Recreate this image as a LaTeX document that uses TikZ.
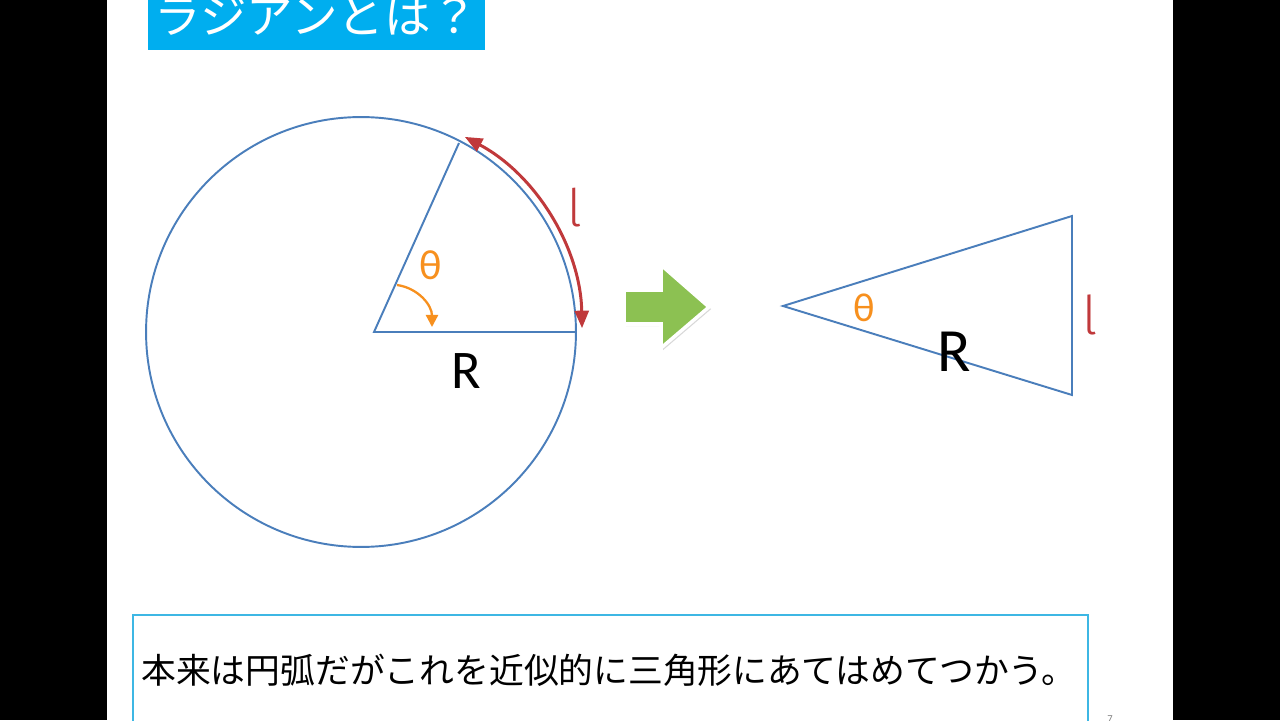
\documentclass[tikz,border=0pt]{standalone}
\usepackage{fontspec}
\setmainfont{Carlito}
\newfontfamily\jpfont{Noto Sans CJK JP}
\newfontfamily\ellfont[Scale=0.95]{Fira Sans Light}
\usepackage{tikz}
\usetikzlibrary{arrows.meta,shadows}

\definecolor{lineblue}{HTML}{4A7EBB}
\definecolor{arcred}{HTML}{C0393B}
\definecolor{angorange}{HTML}{F7901E}
\definecolor{titlecyan}{HTML}{00AEEF}
\definecolor{boxcyan}{HTML}{3DB7E4}
\definecolor{arrgreen}{HTML}{8CC152}

\begin{document}
\begin{tikzpicture}[x=0.02cm,y=0.02cm,
  fig/.style={draw=lineblue,line width=1.1pt},
  lab/.style={inner sep=0pt},
  arcarr/.style={{Triangle[length=3.5mm,width=2.8mm]}-{Triangle[length=3.5mm,width=2.8mm]},draw=arcred,line width=1.7pt},
  angarr/.style={-{Triangle[length=2.4mm,width=2.4mm]},draw=angorange,line width=1.3pt}]
\useasboundingbox (0,0) rectangle (1280,720);
\clip (0,0) rectangle (1280,720);
\fill[white] (0,0) rectangle (1280,720);
\fill[black] (0,0) rectangle (107,720);
\fill[black] (1173,0) rectangle (1280,720);
% title
\fill[titlecyan] (148,670) rectangle (485,730);
\node[lab,text=white,font=\jpfont\fontsize{26.5}{26.5}\selectfont] (title) at (316,704) {ラジアンとは？};
% circle and sector
\coordinate (cen) at (361,388);
\coordinate (ori) at (374,388);
\coordinate (ra) at (575,388);
\coordinate (rb) at (459,577);
\draw[fig] (cen) circle[radius=4.3cm];
\draw[fig] (ra) -- (ori) -- (rb);
\coordinate (arcs) at (464.8,583.1);
\draw[arcarr] (arcs) arc[start angle=62,end angle=1,radius=221];
\coordinate (anga) at (397,435);
\coordinate (angb) at (432,393);
\draw[angarr] (anga) .. controls (418,432) and (432,415) .. (angb);
\node[lab,text=angorange,font=\fontsize{24}{24}\selectfont] (th1) at (431,455) {θ};
\node[lab,font=\fontsize{31}{31}\selectfont] (r1) at (466,349) {R};
\node[lab,text=arcred,font=\ellfont\fontsize{31}{31}\selectfont] (l1) at (575,512) {l};
% arrow
\fill[arrgreen,draw=white,line width=2pt,drop shadow={opacity=0.3,shadow xshift=1.2pt,shadow yshift=-1.2pt}]
  (624,396) -- (661,396) -- (661,372) -- (709,413) -- (661,455) -- (661,430) -- (624,430) -- cycle;
% triangle
\coordinate (tp) at (783,414);
\coordinate (tq) at (1072,504);
\coordinate (ts) at (1072,325);
\draw[fig] (tp) -- (tq) -- (ts) -- cycle;
\node[lab,text=angorange,font=\fontsize{23}{23}\selectfont] (th2) at (864,412) {θ};
\node[lab,font=\fontsize{35}{35}\selectfont] (r2) at (954,368) {R};
\node[lab,text=arcred,font=\ellfont\fontsize{32}{32}\selectfont] (l2) at (1090,405) {l};
% note
\draw[boxcyan,line width=1.3pt] (133,-10) rectangle (1088,105);
\node[lab,anchor=west,font=\jpfont\fontsize{19.8}{19.8}\selectfont] (note) at (141,50) {本来は円弧だがこれを近似的に三角形にあてはめてつかう。};
\node[lab,text=gray,font=\fontsize{6}{6}\selectfont] (page) at (1110,1) {7};
\end{tikzpicture}
\end{document}
